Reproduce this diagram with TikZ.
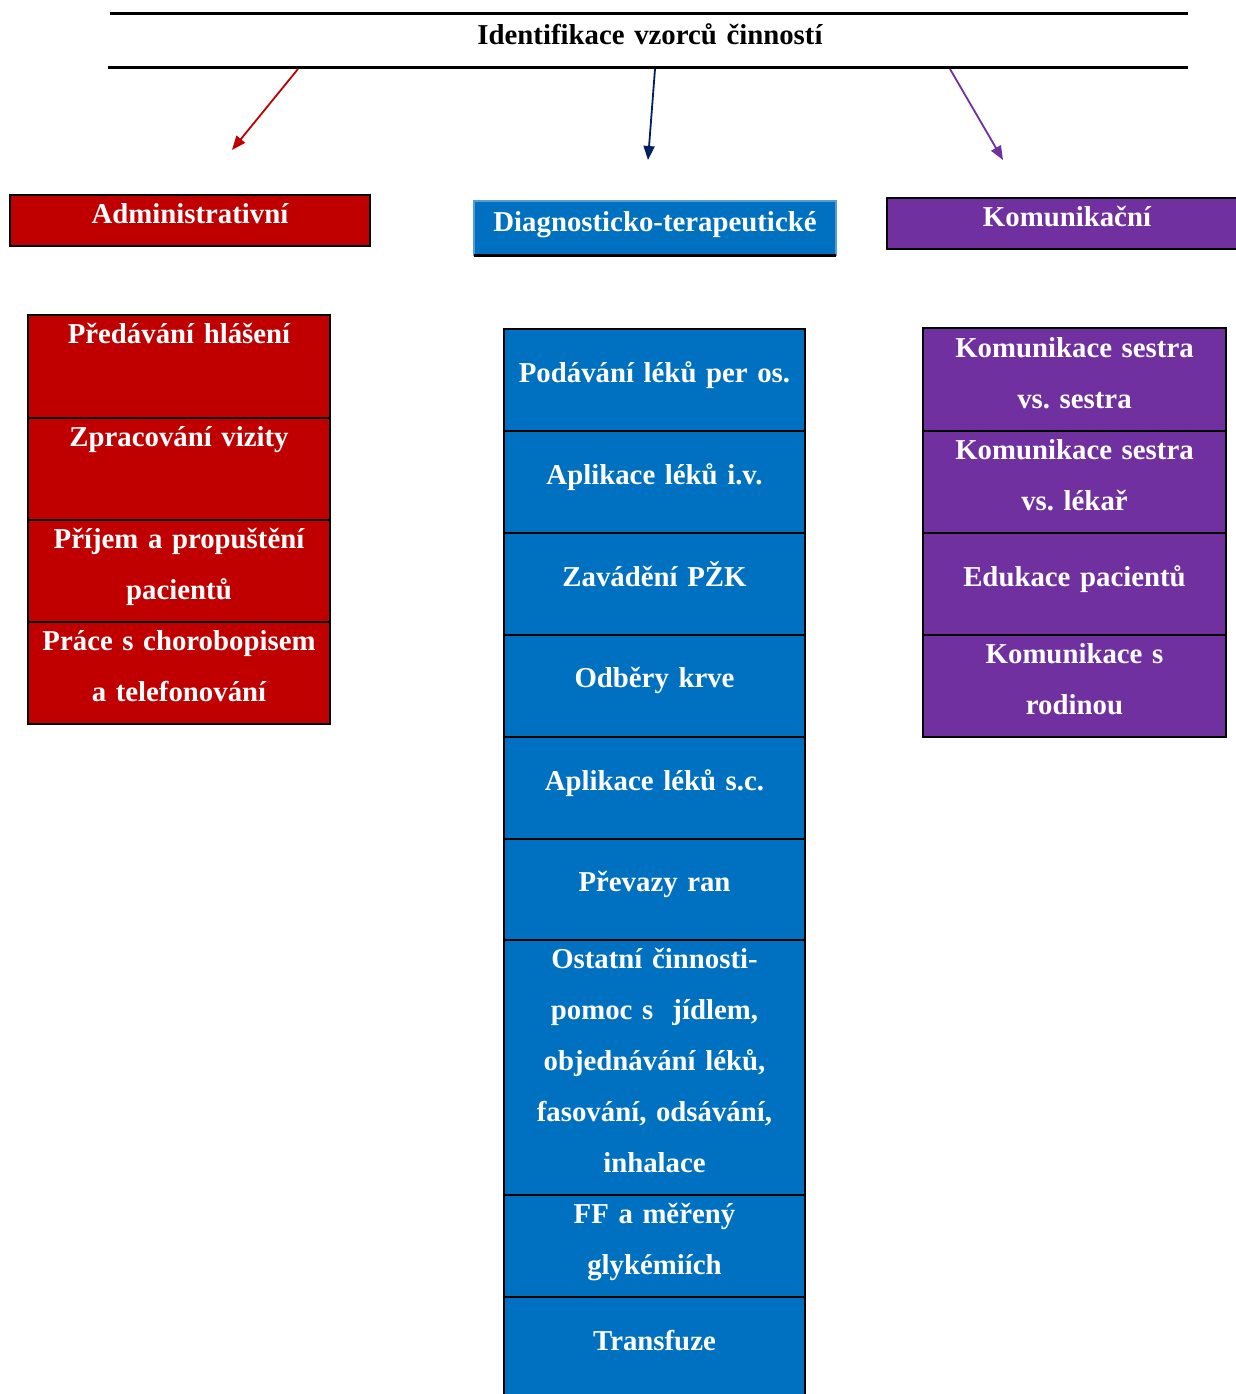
\documentclass[tikz,border=0pt]{standalone}
\usepackage{fontspec}
\setmainfont{Liberation Serif}
\usetikzlibrary{arrows.meta}
\definecolor{admred}{HTML}{C00000}
\definecolor{diagblue}{HTML}{0070C0}
\definecolor{diagedge}{HTML}{5B9BD5}
\definecolor{komviolet}{HTML}{7030A0}
\definecolor{arrnavy}{HTML}{002060}
\tikzset{
  cell/.style={draw=black, line width=1pt, anchor=north west, inner sep=0pt, outer sep=0pt},
  admcell/.style={cell, fill=admred, minimum width=151pt, minimum height=51pt},
  diagcell/.style={cell, fill=diagblue, minimum width=150.5pt, minimum height=51pt},
  komcell/.style={cell, fill=komviolet, minimum width=151.5pt, minimum height=51pt},
  txt/.style={text=white, font=\bfseries\fontsize{14.4}{25.5}\selectfont\frenchspacing, align=center,
    text width=160pt, inner sep=0pt, anchor=base},
  tip/.style={line width=0.9pt, -{Triangle[length=7pt,width=5.5pt]}},
}
\begin{document}
\begin{tikzpicture}[x=0.5pt,y=-0.5pt]
  \useasboundingbox (0,0) rectangle (1236,1394);
  % title between two rules
  \node[inner sep=0pt, minimum width=539pt, minimum height=26.5pt] (title) at (649,40.5) {};
  \node[txt, text=black, text width=300pt] (titlet) at (650,44) {Identifikace vzorců činností};
  \draw[line width=1.5pt] (title.north west) -- (title.north east);
  \draw[line width=1.5pt] ([xshift=-1pt]title.south west) -- (title.south east);
  % the three groups
  \node[cell, fill=admred, minimum width=180pt, minimum height=25.5pt] (adm) at (10,195) {};
  \node[txt, text width=175pt] (admt) at (190,223) {Administrativní};
  \node[cell, draw=diagedge, fill=diagblue, minimum width=181pt, minimum height=27pt] (diag) at (474,201) {};
  \draw[line width=1.5pt] (diag.south west) -- (diag.south east);
  \node[txt, text width=178pt] (diagt) at (655,231) {Diagnosticko-terapeutické};
  \node[cell, fill=komviolet, minimum width=180pt, minimum height=25.5pt] (kom) at (887,198) {};
  \node[txt, text width=175pt] (komt) at (1067,226) {Komunikační};
  % arrows
  \coordinate (admfrom) at (298,69);
  \coordinate (diagfrom) at (655,69);
  \coordinate (komfrom) at (950,69);
  \coordinate (admto) at (232,150);
  \coordinate (diagto) at (648,160);
  \coordinate (komto) at (1003,160);
  \draw[tip, admred] (admfrom) -- (admto);
  \draw[tip, arrnavy] (diagfrom) -- (diagto);
  \draw[tip, komviolet] (komfrom) -- (komto);
  % administrativni
  \node[admcell, minimum height=51.5pt] (adm1) at (28,315) {};
  \node[admcell] (adm2) at (28,418) {};
  \node[admcell] (adm3) at (28,520) {};
  \node[admcell] (adm4) at (28,622) {};
  \node[txt] (adm1t) at (179,343) {Předávání hlášení};
  \node[txt] (adm2t) at (179,446) {Zpracování vizity};
  \node[txt] (adm3t) at (179,548) {Příjem a propuštění\\pacientů};
  \node[txt] (adm4t) at (179,650) {Práce s chorobopisem\\a telefonování};
  % diagnosticko-terapeuticke
  \node[diagcell] (diag1) at (504,329) {};
  \node[diagcell] (diag2) at (504,431) {};
  \node[diagcell] (diag3) at (504,533) {};
  \node[diagcell] (diag4) at (504,635) {};
  \node[diagcell] (diag5) at (504,737) {};
  \node[diagcell, minimum height=50.5pt] (diag6) at (504,839) {};
  \node[diagcell, minimum height=127.5pt] (diag7) at (504,940) {};
  \node[diagcell] (diag8) at (504,1195) {};
  \node[diagcell, minimum height=60pt] (diag9) at (504,1297) {};
  \node[txt] (diag1t) at (654.5,382) {Podávání léků per os.};
  \node[txt] (diag2t) at (654.5,484) {Aplikace léků i.v.};
  \node[txt] (diag3t) at (654.5,586) {Zavádění PŽK};
  \node[txt] (diag4t) at (654.5,687) {Odběry krve};
  \node[txt] (diag5t) at (654.5,790) {Aplikace léků s.c.};
  \node[txt] (diag6t) at (654.5,891) {Převazy ran};
  \node[txt] (diag7t) at (654.5,968) {Ostatní činnosti-\\pomoc s~ jídlem,\\objednávání léků,\\fasování, odsávání,\\inhalace};
  \node[txt] (diag8t) at (654.5,1223) {FF a měřený\\glykémiích};
  \node[txt] (diag9t) at (654.5,1350) {Transfuze};
  % komunikacni
  \node[komcell, minimum height=51.5pt] (kom1) at (923,328) {};
  \node[komcell] (kom2) at (923,431) {};
  \node[komcell] (kom3) at (923,533) {};
  \node[komcell] (kom4) at (923,635) {};
  \node[txt] (kom1t) at (1074.5,357) {Komunikace sestra\\vs. sestra};
  \node[txt] (kom2t) at (1074.5,459) {Komunikace sestra\\vs. lékař};
  \node[txt] (kom3t) at (1074.5,586) {Edukace pacientů};
  \node[txt] (kom4t) at (1074.5,663) {Komunikace s\\rodinou};
\end{tikzpicture}
\end{document}
